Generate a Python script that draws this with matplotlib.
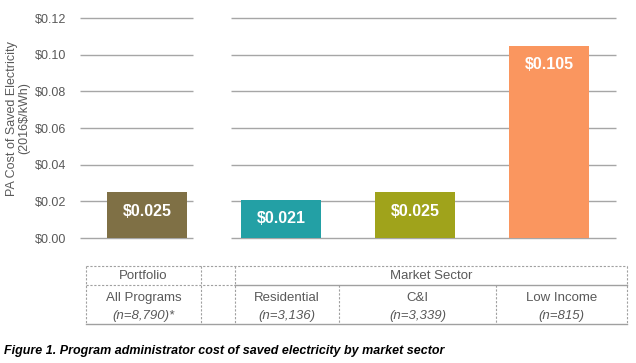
import matplotlib.pyplot as plt

# chart data
groups = ["Portfolio", "Market Sector"]
categories = ["All Programs", "Residential", "C&I", "Low Income"]
counts = ["(n=8,790)*", "(n=3,136)", "(n=3,339)", "(n=815)"]
costs = [0.025, 0.021, 0.025, 0.105]
labels = ["$0.025", "$0.021", "$0.025", "$0.105"]
colors = ["#7F7045", "#23A0A5", "#A0A31B", "#FA965F"]
yticks = [0.0, 0.02, 0.04, 0.06, 0.08, 0.10, 0.12]

W, H = 636, 363
gray = "#595959"
grid = "#A6A6A6"
plt.rcParams["font.family"] = ["Liberation Sans", "DejaVu Sans"]

fig = plt.figure(figsize=(W / 100, H / 100), dpi=100)

# main bar axes
ax = fig.add_axes([80 / W, 1 - 238 / H, 536 / W, 220 / H])
x = list(range(len(costs)))
ax.bar(x, costs, width=0.6, color=colors, zorder=3)
ax.set_xlim(-0.5, 3.5)
ax.set_ylim(0, 0.12)

# broken gridlines (gap between portfolio and sectors)
for t in yticks:
    ax.hlines(t, -0.5, 0.343, color=grid, lw=1, zorder=1, clip_on=False)
    ax.hlines(t, 0.627, 3.5, color=grid, lw=1, zorder=1, clip_on=False)

for xi, v, lab in zip(x, costs, labels):
    ax.annotate(lab, (xi, v), xytext=(0, -14), textcoords="offset points",
                ha="center", va="center", color="white", fontsize=11.5,
                fontweight="bold", zorder=4)

ax.set_xticks([])
ax.set_yticks(yticks)
ax.set_yticklabels([f"${t:.2f}" for t in yticks], color=gray, fontsize=9)
ax.tick_params(axis="y", length=0, pad=10)
for s in ax.spines.values():
    s.set_visible(False)
ax.set_ylabel("PA Cost of Saved Electricity\n(2016$/kWh)", color=gray,
              fontsize=9, linespacing=1.1)
ax.yaxis.set_label_coords(-0.092, 0.545)

# table overlay in pixel coords
tx = fig.add_axes([0, 0, 1, 1])
tx.set_xlim(0, W)
tx.set_ylim(H, 0)
tx.axis("off")
tx.patch.set_alpha(0)

L, R = 86, 627
top, mid, bot = 266, 285, 324
cols = [86, 201, 235, 339, 496, 627]
dash = dict(color="#A0A0A0", lw=0.8, ls=(0, (2, 1.5)))
solid = dict(color="#A0A0A0", lw=1)

tx.plot([L, R], [top, top], **dash)
tx.plot([L, cols[2]], [mid, mid], **dash)
tx.plot([cols[2], R], [mid, mid], **solid)
tx.plot([L, R], [bot, bot], **solid)
for c in [L, cols[1], cols[2], R]:
    tx.plot([c, c], [top, bot], **dash)
for c in [cols[3], cols[4]]:
    tx.plot([c, c], [mid, bot], **dash)

tx.text((cols[0] + cols[1]) / 2, 276, groups[0], ha="center", va="center",
        color=gray, fontsize=9.5)
tx.text((cols[2] + cols[5]) / 2, 276, groups[1], ha="center", va="center",
        color=gray, fontsize=9.5)

centers = [(cols[0] + cols[1]) / 2, (cols[2] + cols[3]) / 2,
           (cols[3] + cols[4]) / 2, (cols[4] + cols[5]) / 2]
for cx, cat, n in zip(centers, categories, counts):
    tx.text(cx, 298, cat, ha="center", va="center", color=gray, fontsize=9.5)
    tx.text(cx, 316, n, ha="center", va="center", color=gray, fontsize=9.5,
            style="italic", fontweight="light")

tx.text(4, 351, "Figure 1. Program administrator cost of saved electricity by market sector",
        ha="left", va="center", color="black", fontsize=9,
        fontweight="bold", style="italic")

fig.savefig("out.png", dpi=100)
